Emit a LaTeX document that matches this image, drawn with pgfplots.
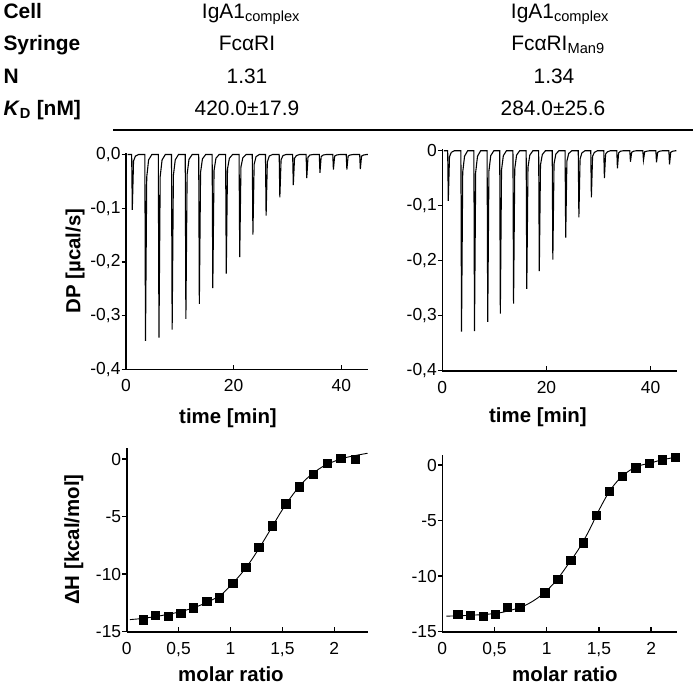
\documentclass[border=0pt]{standalone}
\usepackage{fontspec}
\setmainfont{Liberation Sans}
\usepackage{pgfplots}
\pgfplotsset{compat=1.18}
\pgfplotsset{
  itc/.style={
    scale only axis, clip=false,
    axis lines=left,
    axis line style={line width=1.6bp, -},
    tick align=inside,
    major tick length=4.5bp,
    every tick/.style={black, line width=1.4bp},
    every major y tick/.append style={xshift=-4.5bp},
    minor tick num=0,
    tick label style={font=\fontsize{17.5}{20}\selectfont},
    xticklabel style={yshift=-7bp},
    yticklabel style={xshift=-2bp},
    label style={font=\bfseries\fontsize{20.5}{24}\selectfont},
  },
}
\begin{document}
\begin{tikzpicture}
\useasboundingbox (0,0) rectangle (693bp,-688bp);
\begin{scope}[x=1bp,y=-1bp]
\node[anchor=base west, font=\bfseries\fontsize{21}{24}\selectfont] at (0,18) {Cell};
\node[anchor=base west, font=\bfseries\fontsize{21}{24}\selectfont] at (0,50) {Syringe};
\node[anchor=base west, font=\bfseries\fontsize{21}{24}\selectfont] at (0,83.5) {N};
\node[anchor=base west, font=\bfseries\fontsize{21}{24}\selectfont] at (0,115) {\textit{K}\textsubscript{D} [nM]};
\node[anchor=base, font=\fontsize{21}{24}\selectfont] at (251,18) {IgA1\textsubscript{complex}};
\node[anchor=base, font=\fontsize{21}{24}\selectfont] at (247,50) {FcαRI};
\node[anchor=base, font=\fontsize{21}{24}\selectfont] at (247,83.5) {1.31};
\node[anchor=base, font=\fontsize{21}{24}\selectfont] at (247,115) {420.0±17.9};
\node[anchor=base, font=\fontsize{21}{24}\selectfont] at (560,18) {IgA1\textsubscript{complex}};
\node[anchor=base, font=\fontsize{21}{24}\selectfont] at (558,50) {FcαRI\textsubscript{Man9}};
\node[anchor=base, font=\fontsize{21}{24}\selectfont] at (554,83.5) {1.34};
\node[anchor=base, font=\fontsize{21}{24}\selectfont] at (553,115) {284.0±25.6};
\draw[line width=2.5bp] (113,130) -- (693,130);
\end{scope}

% top-left thermogram
\begin{axis}[itc, at={(126bp,-369.3bp)}, anchor=south west,
  width=242.3bp, height=216.4bp,
  xmin=0, xmax=45, ymin=-0.4, ymax=0.003,
  xtick={0,20,40}, xticklabels={0,20,40},
  ytick={-0.4,-0.3,-0.2,-0.1,0}, yticklabels={{-0,4},{-0,3},{-0,2},{-0,1},{0,0}},
  xlabel={time [min]}, ylabel={DP [µcal/s]},
  xlabel style={at={(axis description cs:0.421,-0.225)}, anchor=center},
  ylabel style={at={(axis description cs:-0.2105,0.5)}, anchor=center, rotate=0},
]
\addplot[black, line width=1.1bp] table {
0.3 0
1.05 0
1.17 -0.103
1.40 -0.012
1.75 -0.003
2.35 0
3.5 0
3.62 -0.347
3.85 -0.042
4.2 -0.010
4.8 0
6.0 0
6.12 -0.341
6.35 -0.041
6.7 -0.010
7.3 0
8.45 0
8.57 -0.326
8.80 -0.039
9.15 -0.010
9.75 0
11.0 0
11.12 -0.306
11.35 -0.037
11.7 -0.009
12.3 0
13.5 0
13.62 -0.278
13.85 -0.033
14.2 -0.008
14.8 0
16.0 0
16.12 -0.249
16.35 -0.030
16.7 -0.007
17.3 0
18.5 0
18.62 -0.222
18.85 -0.027
19.2 -0.007
19.8 0
21.0 0
21.12 -0.191
21.35 -0.023
21.7 -0.006
22.3 0
23.45 0
23.57 -0.149
23.8 -0.018
24.15 -0.004
24.75 0
25.9 0
26.02 -0.114
26.25 -0.014
26.6 -0.003
27.2 0
28.45 0
28.57 -0.080
28.8 -0.010
29.15 -0.002
29.75 0
30.95 0
31.07 -0.057
31.3 -0.007
31.65 -0.002
32.25 0
33.45 0
33.57 -0.044
33.8 -0.005
34.15 -0.001
34.75 0
35.9 0
36.02 -0.034
36.25 -0.004
36.6 -0.001
37.2 0
38.4 0
38.52 -0.028
38.75 -0.003
39.1 -0.001
39.7 0
40.9 0
41.02 -0.028
41.25 -0.003
41.6 -0.001
42.2 0
43.4 0
43.52 -0.027
43.75 -0.003
44.1 -0.001
44.7 0
44.9 0
};
\end{axis}

% top-right thermogram
\begin{axis}[itc, at={(442.3bp,-370.7bp)}, anchor=south west,
  width=234.4bp, height=222.2bp,
  xmin=0, xmax=45, ymin=-0.4, ymax=0.004,
  xtick={0,20,40}, xticklabels={0,20,40},
  ytick={-0.4,-0.3,-0.2,-0.1,0}, yticklabels={{-0,4},{-0,3},{-0,2},{-0,1},{0}},
  xlabel={time [min]},
  xlabel style={at={(axis description cs:0.408,-0.208)}, anchor=center},
]
\addplot[black, line width=1.1bp] table {
0.3 0
1.03 0
1.15 -0.091
1.38 -0.011
1.73 -0.003
2.33 0
3.57 0
3.69 -0.329
3.92 -0.039
4.27 -0.010
4.87 0
6.06 0
6.18 -0.328
6.41 -0.039
6.76 -0.010
7.36 0
8.6 0
8.72 -0.311
8.95 -0.037
9.3 -0.009
9.9 0
11.02 0
11.14 -0.296
11.37 -0.035
11.72 -0.009
12.32 0
13.56 0
13.68 -0.278
13.91 -0.033
14.26 -0.008
14.86 0
16.1 0
16.22 -0.251
16.45 -0.030
16.8 -0.008
17.4 0
18.5 0
18.62 -0.219
18.85 -0.026
19.2 -0.007
19.8 0
21.1 0
21.22 -0.198
21.45 -0.024
21.8 -0.006
22.4 0
23.57 0
23.69 -0.158
23.92 -0.019
24.27 -0.005
24.87 0
26.1 0
26.22 -0.121
26.45 -0.015
26.8 -0.004
27.4 0
28.5 0
28.62 -0.085
28.85 -0.010
29.2 -0.003
29.8 0
31.0 0
31.12 -0.050
31.35 -0.006
31.7 -0.002
32.3 0
33.5 0
33.62 -0.032
33.85 -0.004
34.2 -0.001
34.8 0
36.0 0
36.12 -0.020
36.35 -0.003
36.7 -0.001
37.3 0
38.5 0
38.62 -0.017
38.85 -0.002
39.2 -0.001
39.8 0
41.0 0
41.12 -0.021
41.35 -0.003
41.7 -0.001
42.3 0
43.5 0
43.62 -0.025
43.85 -0.003
44.2 -0.001
44.8 0
44.95 0
};
\end{axis}

% bottom-left isotherm
\begin{axis}[itc, at={(126.7bp,-631.7bp)}, anchor=south west,
  width=240.8bp, height=184.2bp,
  xmin=0, xmax=2.32, ymin=-15, ymax=1,
  xtick={0,0.5,1,1.5,2}, xticklabels={0,{0,5},1,{1,5},2},
  ytick={-15,-10,-5,0}, yticklabels={-15,-10,-5,0},
  xlabel={molar ratio}, ylabel={ΔH [kcal/mol]},
  xlabel style={at={(axis description cs:0.433,-0.2297)}, anchor=center},
  ylabel style={at={(axis description cs:-0.219,0.5)}, anchor=center, rotate=0},
]
\addplot[black, line width=0.9bp, smooth] table {
0.03 -13.95
0.15 -13.85
0.3 -13.65
0.45 -13.4
0.6 -13.05
0.75 -12.55
0.9 -11.85
1.0 -11.0
1.1 -10.0
1.2 -8.8
1.3 -7.4
1.4 -5.9
1.5 -4.4
1.6 -3.1
1.7 -2.0
1.8 -1.2
1.9 -0.6
2.0 -0.2
2.1 0.1
2.2 0.3
2.32 0.5
};
\addplot[only marks, mark=square*, mark size=4.2bp, black] table {
0.157 -13.96
0.276 -13.55
0.398 -13.67
0.520 -13.38
0.642 -12.92
0.770 -12.34
0.892 -12.05
1.021 -10.80
1.146 -9.41
1.271 -7.65
1.400 -5.79
1.530 -3.88
1.663 -2.40
1.798 -1.30
1.933 -0.38
2.060 0.06
2.200 0.00
};
\end{axis}

% bottom-right isotherm
\begin{axis}[itc, at={(442.3bp,-631.7bp)}, anchor=south west,
  width=234.4bp, height=176.6bp,
  xmin=0, xmax=2.245, ymin=-15, ymax=0.9,
  xtick={0,0.5,1,1.5,2}, xticklabels={0,{0,5},1,{1,5},2},
  ytick={-15,-10,-5,0}, yticklabels={-15,-10,-5,0},
  xlabel={molar ratio},
  xlabel style={at={(axis description cs:0.523,-0.2395)}, anchor=center},
]
\addplot[black, line width=0.9bp, smooth] table {
0.04 -13.6
0.2 -13.55
0.4 -13.45
0.55 -13.3
0.7 -12.95
0.8 -12.6
0.9 -12.05
1.0 -11.3
1.1 -10.3
1.2 -9.0
1.3 -7.65
1.4 -6.0
1.5 -4.07
1.6 -2.37
1.7 -1.2
1.8 -0.45
1.9 -0.02
2.0 0.2
2.1 0.47
2.245 0.72
};
\addplot[only marks, mark=square*, mark size=4.2bp, black] table {
0.147 -13.40
0.268 -13.49
0.390 -13.58
0.505 -13.40
0.623 -12.80
0.741 -12.80
0.981 -11.48
1.105 -10.25
1.230 -8.57
1.351 -6.98
1.475 -4.50
1.600 -2.37
1.724 -0.99
1.852 -0.24
1.980 0.15
2.107 0.48
2.232 0.72
};
\end{axis}
\end{tikzpicture}
\end{document}
